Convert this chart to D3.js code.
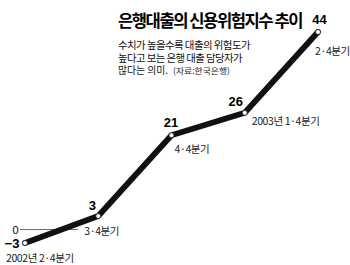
<!DOCTYPE html>
<html>
<head>
<meta charset="utf-8">
<script src="https://cdn.jsdelivr.net/npm/d3@7"></script>
<style>
  body { margin: 0; background: #fff; }
  svg { display: block; }
  .kr { font-family: "Noto Sans CJK KR", "Noto Sans", sans-serif; }
  .num { font-family: "Liberation Sans", Arial, sans-serif; font-weight: bold; }
</style>
</head>
<body>
<div id="chart"></div>
<script>
// quarters and index values
var quarters = ["2002Q2", "2002Q3", "2002Q4", "2003Q1", "2003Q2"];
var values = [-3, 3, 21, 26, 44];
var valueLabels = ["\u22123", "3", "21", "26", "44"];
var quarterLabels = ["2002년 2·4분기", "3·4분기", "4·4분기", "2003년 1·4분기", "2·4분기"];

var width = 350, height = 265;

var svg = d3.select("#chart")
  .append("svg")
  .attr("width", width)
  .attr("height", height)

var x = d3.scalePoint()
  .domain(quarters)
  .range([25, 318])

var y = d3.scaleLinear()
  .domain([-3, 44])
  .range([243, 32])

// title + note
svg.append("text")
  .attr("class", "kr")
  .attr("x", 118).attr("y", 27)
  .attr("font-size", 17).attr("font-weight", "bold")
  .attr("letter-spacing", -1.5)
  .attr("textLength", 184).attr("lengthAdjust", "spacingAndGlyphs")
  .text("은행대출의 신용위험지수 추이")

var note = ["수치가 높을수록 대출의 위험도가", "높다고 보는 은행 대출 담당자가"];
var noteLen = [132, 124];
note.forEach(function(t, i){
  svg.append("text")
    .attr("class", "kr")
    .attr("x", 118).attr("y", 49 + i * 12.5)
    .attr("font-size", 10.5).attr("fill", "#111")
    .attr("letter-spacing", -0.6)
    .attr("textLength", noteLen[i]).attr("lengthAdjust", "spacingAndGlyphs")
    .text(t)
})
svg.append("text")
  .attr("class", "kr")
  .attr("x", 118).attr("y", 74)
  .attr("font-size", 10.5).attr("fill", "#111")
  .attr("textLength", 50).attr("lengthAdjust", "spacingAndGlyphs")
  .text("많다는 의미.")
svg.append("text")
  .attr("class", "kr")
  .attr("x", 173).attr("y", 74)
  .attr("font-size", 8.5).attr("fill", "#222")
  .attr("textLength", 57).attr("lengthAdjust", "spacingAndGlyphs")
  .text("(자료:한국은행)")

// zero line
svg.append("line")
  .attr("x1", 20).attr("x2", 78)
  .attr("y1", y(0)).attr("y2", y(0))
  .attr("stroke", "#444").attr("stroke-width", 0.8)

svg.append("text")
  .attr("x", 15.5).attr("y", y(0) + 4)
  .attr("text-anchor", "middle")
  .style("font-family", "'Liberation Sans', Arial, sans-serif")
  .style("font-weight", "normal")
  .attr("font-size", 11)
  .text("0")

// the line
var line = d3.line()
  .x(function(d, i){ return x(quarters[i]) })
  .y(function(d){ return y(d) })

svg.append("path")
  .datum(values)
  .attr("d", line)
  .attr("fill", "none")
  .attr("stroke", "#111")
  .attr("stroke-width", 5.8)
  .attr("stroke-linejoin", "round")
  .attr("stroke-linecap", "round")

svg.selectAll(".dot")
  .data(values).enter().append("circle")
    .attr("class", "dot")
    .attr("cx", function(d, i){ return x(quarters[i]) })
    .attr("cy", function(d){ return y(d) })
    .attr("r", 2.5)
    .attr("fill", "#fff")
    .attr("stroke", "#111")
    .attr("stroke-width", 0.8)

// value labels, offsets relative to each point
var valOff = [[-13, 5], [-6, -6], [-0.5, -8], [-9, -7], [1.5, -8]];
svg.selectAll(".val")
  .data(values).enter().append("text")
    .attr("class", "num")
    .attr("x", function(d, i){ return x(quarters[i]) + valOff[i][0] })
    .attr("y", function(d, i){ return y(d) + valOff[i][1] })
    .attr("text-anchor", "middle")
    .attr("font-size", 13)
    .text(function(d, i){ return valueLabels[i] })

// quarter labels
var qOff = [[-19, 19], [-14, 19], [3, 18], [7, 12], [-3, 23]];
svg.selectAll(".q")
  .data(values).enter().append("text")
    .attr("class", "kr")
    .attr("x", function(d, i){ return x(quarters[i]) + qOff[i][0] })
    .attr("y", function(d, i){ return y(d) + qOff[i][1] })
    .attr("font-size", 10.5)
    .attr("letter-spacing", -0.4)
    .attr("fill", "#222")
    .text(function(d, i){ return quarterLabels[i] })
</script>
</body>
</html>
